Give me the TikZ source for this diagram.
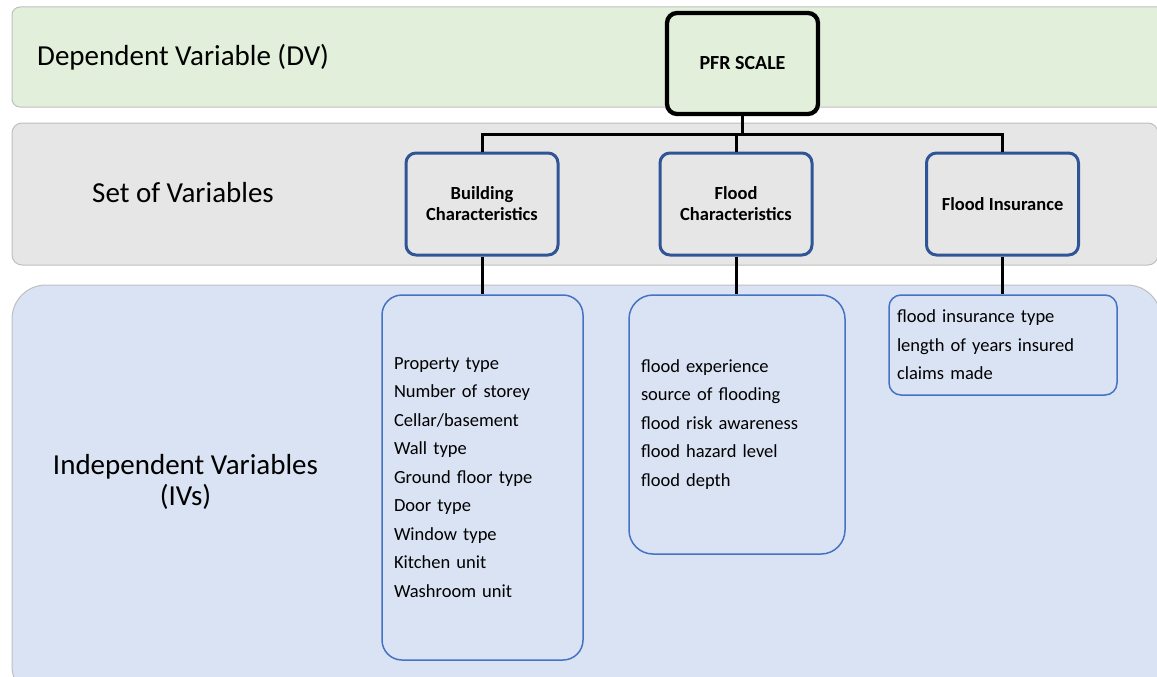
\documentclass[tikz,border=0pt]{standalone}
\usepackage{fontspec}
\setmainfont{Carlito}
\definecolor{dvgreen}{HTML}{E2EFDA}
\definecolor{setgray}{HTML}{E7E6E6}
\definecolor{ivblue}{HTML}{DAE3F3}
\definecolor{bandline}{HTML}{BFBFBF}
\definecolor{catblue}{HTML}{2F5597}
\definecolor{listblue}{HTML}{4472C4}
\begin{document}
\begin{tikzpicture}[x=1pt,y=-1pt,
  band/.style={draw=bandline, line width=1pt},
  lbl/.style={font=\fontsize{29}{31}\selectfont, inner sep=0pt},
  topbox/.style={draw=black, line width=4.3pt, rounded corners=10pt, fill=dvgreen,
    minimum width=151pt, minimum height=101pt, inner sep=0pt,
    font=\bfseries\fontsize{20}{24}\selectfont},
  catbox/.style={draw=catblue, line width=3pt, rounded corners=10pt, fill=setgray,
    minimum width=152pt, minimum height=102pt, align=center, inner sep=0pt,
    font=\bfseries\fontsize{18.5}{21}\selectfont},
  listbox/.style={draw=listblue, line width=1.5pt, fill=ivblue, align=left,
    inner ysep=0pt, font=\fontsize{18.5}{28.5}\selectfont},
  link/.style={draw=black, line width=3pt}
]
\useasboundingbox (0,0) rectangle (1157,677);
\clip (0,0) rectangle (1157,677);

% bands
\draw[band, fill=dvgreen, rounded corners=8pt] (12,7) rectangle (1175,107);
\draw[band, fill=setgray, rounded corners=10pt] (12,123) rectangle (1158,265);
\draw[band, fill=ivblue, rounded corners=34pt] (12,285) rectangle (1161,700);

% band labels
\node[lbl, anchor=west] (dv) at (37,57) {Dependent Variable (DV)};
\node[lbl, anchor=west] (sv) at (92,193) {Set of Variables};
\node[lbl, align=center] (iv) at (185.5,482) {Independent Variables\\(IVs)};

% top
\node[topbox] (pfr) at (742.5,63.5) {PFR SCALE};

% categories
\node[catbox] (bc) at (482,204) {Building\\Characteristics};
\node[catbox] (fc) at (736,204) {Flood\\Characteristics};
\node[catbox] (fi) at (1002.5,204) {Flood Insurance};

% lists
\node[listbox, rounded corners=20pt, minimum width=201pt, minimum height=365pt,
  inner xsep=12pt, text width=177pt] (bl) at (482.5,477.5)
  {Property type\\Number of storey\\Cellar/basement\\Wall type\\Ground floor type\\Door type\\Window type\\Kitchen unit\\Washroom unit};
\node[listbox, rounded corners=24pt, minimum width=216pt, minimum height=259pt,
  inner xsep=12pt, text width=192pt] (fl) at (737,424.5)
  {flood experience\\source of flooding\\flood risk awareness\\flood hazard level\\flood depth};
\node[listbox, rounded corners=12pt, minimum width=228pt, minimum height=100pt,
  inner xsep=8pt, text width=212pt] (il) at (1003,345)
  {flood insurance type\\length of years insured\\claims made};

% connectors
\coordinate (j) at (742.5,134);
\draw[link] (pfr.south) -- (j);
\draw[link] (bc.north) |- (j) -| (fi.north);
\draw[link] (j) -| (fc.north);
\draw[link] (bc.south) -- (bc.south |- bl.north);
\draw[link] (fc.south) -- (fc.south |- fl.north);
\draw[link] (fi.south) -- (fi.south |- il.north);
\end{tikzpicture}
\end{document}
